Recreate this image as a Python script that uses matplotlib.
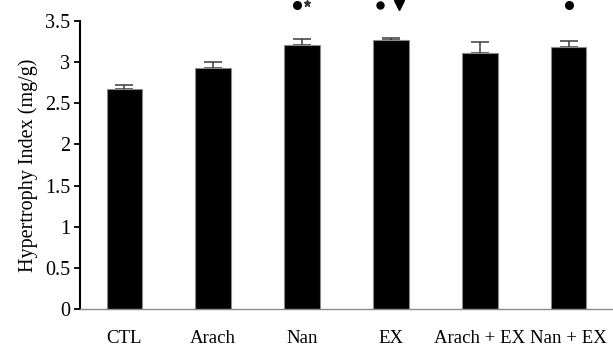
import numpy as np
import matplotlib.pyplot as plt

groups = ['CTL', 'Arach', 'Nan', 'EX', 'Arach + EX', 'Nan + EX']
means = [2.67, 2.93, 3.21, 3.27, 3.11, 3.19]
errors = [0.05, 0.07, 0.07, 0.02, 0.14, 0.07]

plt.rcParams['font.family'] = 'Liberation Serif'

fig = plt.figure(figsize=(6.13, 3.47), dpi=100)
ax = fig.add_axes([0.1305, 0.1095, 0.8695, 0.83])

x = np.arange(len(groups))
ax.bar(x, means, width=0.4, color='black', edgecolor='#8a8a8a', linewidth=0.8, zorder=2)
ax.errorbar(x, means, yerr=[np.zeros(len(means)), errors], fmt='none',
            ecolor='#3a3a3a', elinewidth=1.1, capsize=6.5, capthick=1.1, zorder=1)

# significance marks above the bars
ax.plot(x[2] - 0.06, 3.70, 'o', color='black', ms=5.5, clip_on=False)
ax.plot(x[2] + 0.06, 3.72, '*', color='#333333', ms=4.5, clip_on=False)
ax.plot(x[3] - 0.125, 3.70, 'o', color='black', ms=5, clip_on=False)
ax.plot(x[3] + 0.09, 3.69, 'v', color='black', ms=6.5, clip_on=False)
ax.plot(x[5], 3.70, 'o', color='black', ms=5.5, clip_on=False)

ax.set_xlim(-0.5, 5.5)
ax.set_ylim(0, 3.5)
ax.set_yticks([0, 0.5, 1, 1.5, 2, 2.5, 3, 3.5])
ax.set_yticklabels(['0', '0.5', '1', '1.5', '2', '2.5', '3', '3.5'])
ax.set_xticks(x)
ax.set_xticklabels(groups)
ax.tick_params(axis='x', length=0, pad=15, labelsize=13.5)
ax.tick_params(axis='y', length=4, width=1.3, labelsize=14.5, direction='out', pad=3)
ax.set_ylabel('Hypertrophy Index (mg/g)', fontsize=14.5, labelpad=5)

for s in ['top', 'right']:
    ax.spines[s].set_visible(False)
ax.spines['left'].set_linewidth(1.5)
ax.spines['bottom'].set_color('#8a8a8a')
ax.spines['bottom'].set_linewidth(1)

plt.savefig('out.png', dpi=100)
